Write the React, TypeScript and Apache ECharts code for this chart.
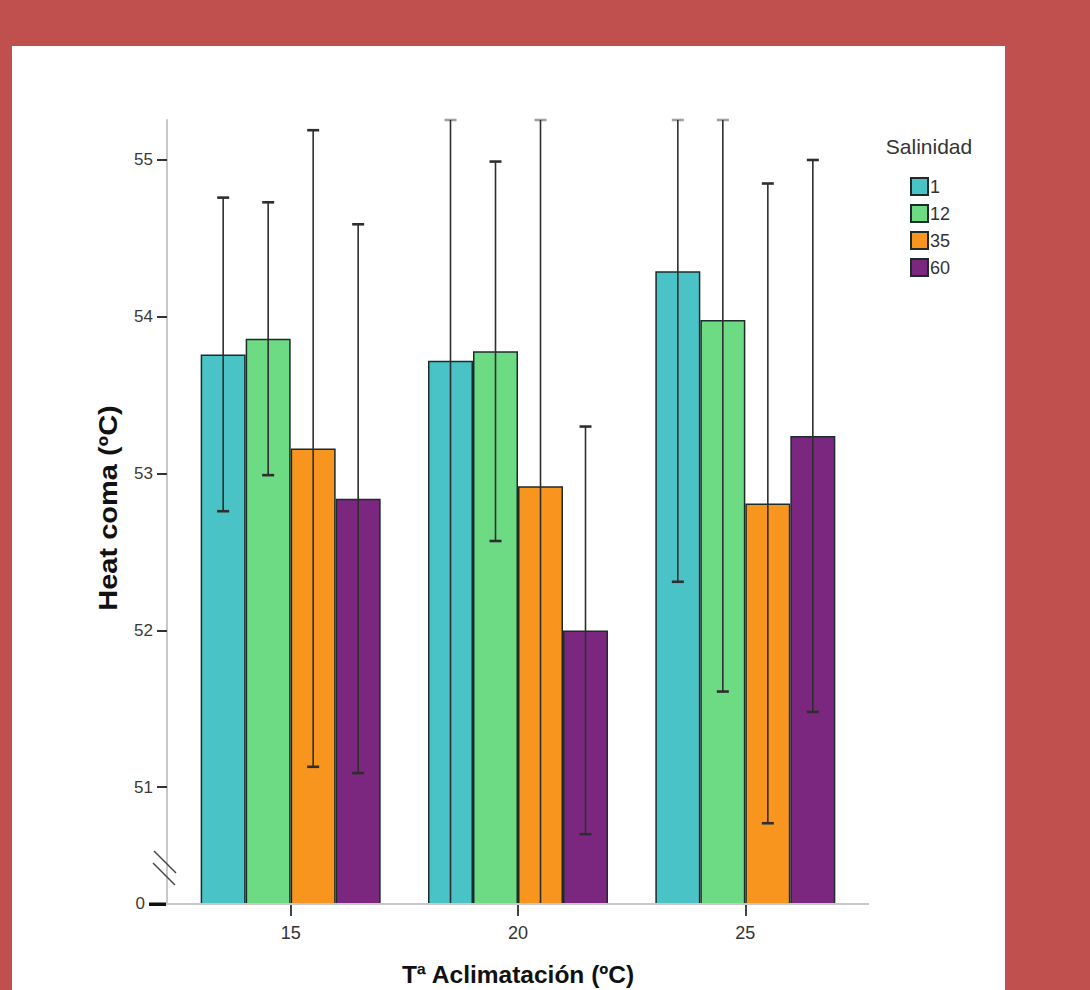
import React, { useEffect, useRef } from "react";
import * as echarts from "echarts";

// Acclimation temperature groups (x axis)
const categories = ["15", "20", "25"];
// Salinity levels (legend)
const salinities = ["1", "12", "35", "60"];

// Mean heat coma temperature (ºC) per salinity, one value per acclimation group
const meanSal1 = [53.76, 53.72, 54.29];
const meanSal12 = [53.86, 53.78, 53.98];
const meanSal35 = [53.16, 52.92, 52.81];
const meanSal60 = [52.84, 52.0, 53.24];

// Half-width of the error bars (ºC)
const errSal1 = [1.0, 3.6, 1.98];
const errSal12 = [0.87, 1.21, 2.37];
const errSal35 = [2.03, 2.8, 2.04];
const errSal60 = [1.75, 1.3, 1.76];

// Visible tick labels on the broken value axis
const yTicks = [51, 52, 53, 54, 55];
const yBaseLabel = "0";

const means = [meanSal1, meanSal12, meanSal35, meanSal60];
const errs = [errSal1, errSal12, errSal35, errSal60];
const colors = ["#49C3C6", "#6DDB84", "#F7951F", "#7B2780"];

// Axis window shown above the break
const AXIS_MIN = 50.255;
const AXIS_MAX = 55.255;
const BAR_W = 45;
const FONT = '"Liberation Sans", Arial, sans-serif';

export default function App() {
  const ref = useRef<HTMLDivElement>(null);

  useEffect(() => {
    if (!ref.current) return;
    const chart = echarts.init(ref.current, undefined, { renderer: "svg" });

    const barSeries = salinities.map((name, i) => ({
      name,
      type: "bar",
      data: means[i],
      barWidth: BAR_W,
      barGap: "0%",
      itemStyle: { color: colors[i], borderColor: "#1d2b2b", borderWidth: 1.5 },
      z: 2,
    }));

    const errorSeries = salinities.map((name, i) => ({
      name: "err-" + name,
      type: "custom",
      z: 5,
      data: categories.map((_, j) => [j, means[i][j] - errs[i][j], means[i][j] + errs[i][j]]),
      encode: { x: 0, y: [1, 2] },
      renderItem: (params: any, api: any) => {
        const j = api.value(0);
        const lo = api.value(1);
        const hi = api.value(2);
        const loC = Math.max(lo, AXIS_MIN);
        const hiC = Math.min(hi, AXIS_MAX);
        const pLo = api.coord([j, loC]);
        const pHi = api.coord([j, hiC]);
        const x = pLo[0] + (i - 1.5) * BAR_W;
        const stroke = { stroke: "#2e2e2e", lineWidth: 1.6 };
        const capStroke = { stroke: "#2e2e2e", lineWidth: 2.6 };
        const children: any[] = [
          { type: "line", shape: { x1: x, y1: pLo[1], x2: x, y2: pHi[1] }, style: stroke },
          {
            type: "line",
            shape: { x1: x - 6, y1: pHi[1], x2: x + 6, y2: pHi[1] },
            style: { ...capStroke, opacity: hi > AXIS_MAX ? 0.45 : 1 },
          },
        ];
        if (lo >= AXIS_MIN) {
          children.push({
            type: "line",
            shape: { x1: x - 6, y1: pLo[1], x2: x + 6, y2: pLo[1] },
            style: capStroke,
          });
        }
        return { type: "group", children };
      },
    }));

    chart.setOption({
      animation: false,
      backgroundColor: "#C0504D",
      grid: { left: 177, top: 120, width: 682, height: 784, containLabel: false },
      legend: {
        data: salinities,
        orient: "vertical",
        left: 905,
        top: 172,
        itemWidth: 17,
        itemHeight: 17,
        itemGap: 8,
        icon: "rect",
        selectedMode: false,
        textStyle: { fontSize: 18, color: "#333", fontFamily: FONT, padding: [0, 0, 0, -3] },
      },
      xAxis: {
        type: "category",
        data: categories,
        axisLine: { show: false },
        axisTick: { show: true, alignWithLabel: true, length: 12, lineStyle: { color: "#444", width: 2 } },
        axisLabel: { fontSize: 18, color: "#333", margin: 20, fontFamily: FONT },
      },
      yAxis: {
        type: "value",
        min: AXIS_MIN,
        max: AXIS_MAX,
        offset: 10,
        axisLine: { show: true, lineStyle: { color: "#c8c8c8", width: 2 } },
        axisTick: { show: true, customValues: yTicks, length: 10, lineStyle: { color: "#333", width: 2 } },
        axisLabel: { customValues: yTicks, fontSize: 17, color: "#3a3a3a", margin: 14, fontFamily: FONT },
        splitLine: { show: false },
      },
      graphic: [
        { type: "rect", z: -10, shape: { x: 12, y: 46, width: 993, height: 944 }, style: { fill: "#ffffff" } },
        { type: "line", z: 10, shape: { x1: 167, y1: 904, x2: 869, y2: 904 }, style: { stroke: "#c8c8c8", lineWidth: 2 } },
        // thick zero tick and its label below the axis break
        { type: "rect", z: 10, shape: { x: 149, y: 902.5, width: 17, height: 3.5 }, style: { fill: "#111" } },
        {
          type: "text", z: 10, x: 145, y: 903,
          style: { text: yBaseLabel, font: `17px ${FONT}`, fill: "#3a3a3a", align: "right", verticalAlign: "middle" },
        },
        // axis break marks
        { type: "line", z: 10, shape: { x1: 154, y1: 851, x2: 176, y2: 873 }, style: { stroke: "#444", lineWidth: 1.5 } },
        { type: "line", z: 10, shape: { x1: 153, y1: 863, x2: 175, y2: 885 }, style: { stroke: "#444", lineWidth: 1.5 } },
        {
          type: "text", z: 10, x: 108, y: 508, rotation: Math.PI / 2, scaleY: 0.88,
          style: { text: "Heat coma (ºC)", font: `bold 29px ${FONT}`, fill: "#111", align: "center", verticalAlign: "middle" },
        },
        {
          type: "text", z: 10, x: 518, y: 974,
          style: { text: "Tª Aclimatación (ºC)", font: `bold 24.5px ${FONT}`, fill: "#111", align: "center", verticalAlign: "middle" },
        },
        {
          type: "text", z: 10, x: 929, y: 146,
          style: { text: "Salinidad", font: `21px ${FONT}`, fill: "#333", align: "center", verticalAlign: "middle" },
        },
      ],
      series: [...barSeries, ...errorSeries],
    });

    return () => chart.dispose();
  }, []);

  return (
    <div
      ref={ref}
      style={{ position: "fixed", left: 0, top: 0, width: 1090, height: 990 }}
    />
  );
}
